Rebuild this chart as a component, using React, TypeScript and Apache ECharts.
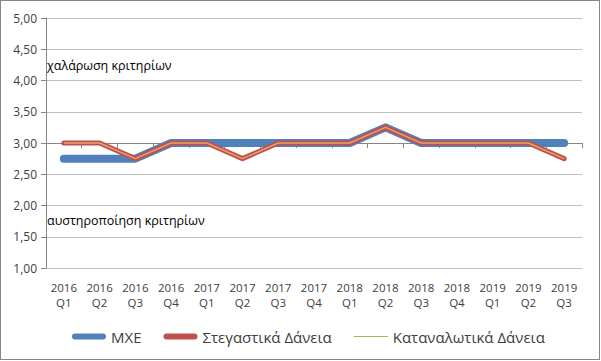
import React, { useEffect, useRef } from "react";
import * as echarts from "echarts";

const categories = [
  "2016\nQ1", "2016\nQ2", "2016\nQ3", "2016\nQ4",
  "2017\nQ1", "2017\nQ2", "2017\nQ3", "2017\nQ4",
  "2018\nQ1", "2018\nQ2", "2018\nQ3", "2018\nQ4",
  "2019\nQ1", "2019\nQ2", "2019\nQ3",
];
const mxe = [2.75, 2.75, 2.75, 3.0, 3.0, 3.0, 3.0, 3.0, 3.0, 3.25, 3.0, 3.0, 3.0, 3.0, 3.0];
const housing = [3.0, 3.0, 2.75, 3.0, 3.0, 2.75, 3.0, 3.0, 3.0, 3.25, 3.0, 3.0, 3.0, 3.0, 2.75];
const consumer = [3.0, 3.0, 2.75, 3.0, 3.0, 2.75, 3.0, 3.0, 3.0, 3.25, 3.0, 3.0, 3.0, 3.0, 2.75];
const seriesNames = ["ΜΧΕ", "Στεγαστικά Δάνεια", "Καταναλωτικά Δάνεια"];

const FONT = "'Open Sans', 'DejaVu Sans', sans-serif";
const THICK_ICON = "path://M3,0 L31,0 A3,3 0 0 1 31,6 L3,6 A3,3 0 0 1 3,0 Z";
const THIN_ICON = "path://M0,0 L34,0 L34,1 L0,1 Z";

export default function App() {
  const ref = useRef<HTMLDivElement>(null);
  useEffect(() => {
    if (!ref.current) return;
    const chart = echarts.init(ref.current, null, { renderer: "svg" });
    chart.setOption({
      animation: false,
      textStyle: { fontFamily: FONT },
      grid: { left: 46, right: 19, top: 18, bottom: 93 },
      legend: {
        left: 67,
        top: 324,
        itemWidth: 34,
        itemHeight: 12,
        itemGap: 22,
        symbolKeepAspect: true,
        textStyle: { fontSize: 15, color: "#404040", fontFamily: FONT },
        data: [
          { name: seriesNames[0], icon: THICK_ICON, itemStyle: { color: "#4f81bd" } },
          { name: seriesNames[1], icon: THICK_ICON, itemStyle: { color: "#c0504d" } },
          { name: seriesNames[2], icon: THIN_ICON, itemStyle: { color: "#9bbb59" } },
        ],
      },
      xAxis: [
        {
          type: "category",
          data: categories,
          position: "bottom",
          axisLine: { show: false },
          axisTick: { show: false },
          axisLabel: { color: "#404040", fontSize: 11.5, lineHeight: 15, margin: 12, interval: 0 },
        },
        {
          type: "category",
          data: categories,
          position: "bottom",
          offset: -125,
          axisLine: { show: true, lineStyle: { color: "#868686", width: 1 } },
          axisTick: { show: true, length: 5, lineStyle: { color: "#868686" } },
          axisLabel: { show: false },
        },
      ],
      yAxis: {
        type: "value",
        min: 1,
        max: 5,
        interval: 0.5,
        axisLine: { show: true, lineStyle: { color: "#868686" } },
        axisTick: { show: true, length: 5, lineStyle: { color: "#868686" } },
        axisLabel: {
          color: "#404040",
          fontSize: 12,
          margin: 9,
          formatter: (v: number) => v.toFixed(2).replace(".", ","),
        },
        splitLine: { lineStyle: { color: "#bfbfbf" } },
      },
      graphic: [
        {
          type: "text",
          left: 47,
          top: 59,
          style: { text: "χαλάρωση κριτηρίων", fontSize: 12.5, fill: "#000", fontFamily: FONT },
        },
        {
          type: "text",
          left: 47,
          top: 214,
          style: { text: "αυστηροποίηση κριτηρίων", fontSize: 12.5, fill: "#000", fontFamily: FONT },
        },
      ],
      series: [
        {
          name: seriesNames[0],
          type: "line",
          data: mxe,
          symbol: "none",
          color: "#4f81bd",
          lineStyle: { color: "#4f81bd", width: 8, cap: "round", join: "round" },
        },
        {
          name: seriesNames[1],
          type: "line",
          data: housing,
          symbol: "none",
          color: "#c0504d",
          lineStyle: { color: "#c0504d", width: 5, cap: "round", join: "round" },
        },
        {
          name: seriesNames[2],
          type: "line",
          data: consumer,
          symbol: "none",
          color: "#9bbb59",
          lineStyle: { color: "#e2a26a", width: 1.5 },
        },
      ],
    });
    return () => chart.dispose();
  }, []);
  return (
    <div
      style={{
        position: "fixed",
        left: 0,
        top: 0,
        width: 600,
        height: 360,
        border: "1px solid #868686",
        boxSizing: "border-box",
        background: "#fff",
      }}
    >
      <div ref={ref} style={{ position: "absolute", left: -1, top: -1, width: 601, height: 361 }} />
    </div>
  );
}
